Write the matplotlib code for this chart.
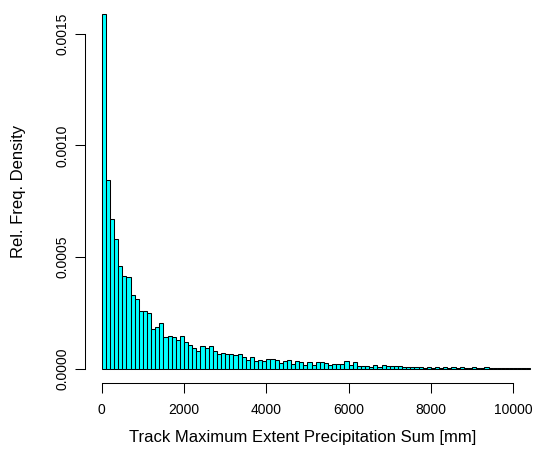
import numpy as np
import matplotlib
matplotlib.use("Agg")
import matplotlib.pyplot as plt

plt.rcParams['font.family'] = ['Liberation Sans', 'DejaVu Sans']

# histogram bins: width 100 mm, from 0 to 10400
bin_width = 100
bin_starts = np.arange(0, 10400, bin_width)

# relative frequency density of each bin
density = [
    0.001588, 0.000846, 0.000671, 0.000582, 0.000461, 0.000416, 0.000409, 0.000330,
    0.000312, 0.000258, 0.000258, 0.000252, 0.000179, 0.000187, 0.000206, 0.000142,
    0.000146, 0.000142, 0.000130, 0.000146, 0.000118, 0.000107, 0.000091, 0.000082,
    0.000100, 0.000094, 0.000103, 0.000081, 0.000067, 0.000072, 0.000067, 0.000067,
    0.000060, 0.000067, 0.000055, 0.000040, 0.000054, 0.000033, 0.000039, 0.000036,
    0.000045, 0.000042, 0.000040, 0.000026, 0.000036, 0.000040, 0.000022, 0.000036,
    0.000031, 0.000018, 0.000030, 0.000019, 0.000030, 0.000030, 0.000028, 0.000019,
    0.000022, 0.000022, 0.000021, 0.000037, 0.000017, 0.000030, 0.000012, 0.000011,
    0.000013, 0.000009, 0.000015, 0.000007, 0.000015, 0.000013, 0.000011, 0.000014,
    0.000013, 0.000009, 0.000008, 0.000009, 0.000006, 0.000008, 0.000004, 0.000007,
    0.000005, 0.000009, 0.000004, 0.000006, 0.000003, 0.000010, 0.000005, 0.000006,
    0.000003, 0.000004, 0.000007, 0.000003, 0.000005, 0.000006, 0.000003, 0.000004,
    0.000002, 0.000003, 0.000005, 0.000002, 0.000003, 0.000004, 0.000002, 0.000005,
]

x_ticks = [0, 2000, 4000, 6000, 8000, 10000]
y_ticks = [0.0, 0.0005, 0.0010, 0.0015]
y_tick_labels = ["0.0000", "0.0005", "0.0010", "0.0015"]

W, H = 536, 462
fig = plt.figure(figsize=(W / 100, H / 100), dpi=100)
# plot region in pixels (R style, 4% padding around the data)
left, right, top, bottom = 84.6, 536, 0, 383
ax = fig.add_axes([left / W, (H - bottom) / H, (right - left) / W, (bottom - top) / H])

ax.bar(bin_starts, density, width=bin_width, align='edge',
       color='#00FFFF', edgecolor='black', linewidth=0.75)

ymax = max(density)
ax.set_ylim(-0.04 * ymax, 1.04 * ymax)
ax.set_xlim(-416, 10554)

ax.spines['top'].set_visible(False)
ax.spines['right'].set_visible(False)
ax.spines['left'].set_bounds(0, 0.0015)
ax.spines['bottom'].set_bounds(0, 10000)
for s in ('left', 'bottom'):
    ax.spines[s].set_linewidth(0.75)

ax.set_xticks(x_ticks)
ax.set_xticklabels([str(t) for t in x_ticks])
ax.set_yticks(y_ticks)
ax.set_yticklabels(y_tick_labels, rotation=90, va='center')
ax.tick_params(direction='out', length=7.2, width=0.75, labelsize=10)
ax.tick_params(axis='x', pad=7)
ax.tick_params(axis='y', pad=4)

ax.set_xlabel("Track Maximum Extent Precipitation Sum [mm]", fontsize=12)
ax.xaxis.set_label_coords(0.484, -0.122)
ax.set_ylabel("Rel. Freq. Density", fontsize=12, labelpad=21)

fig.savefig("out.png", dpi=100)
